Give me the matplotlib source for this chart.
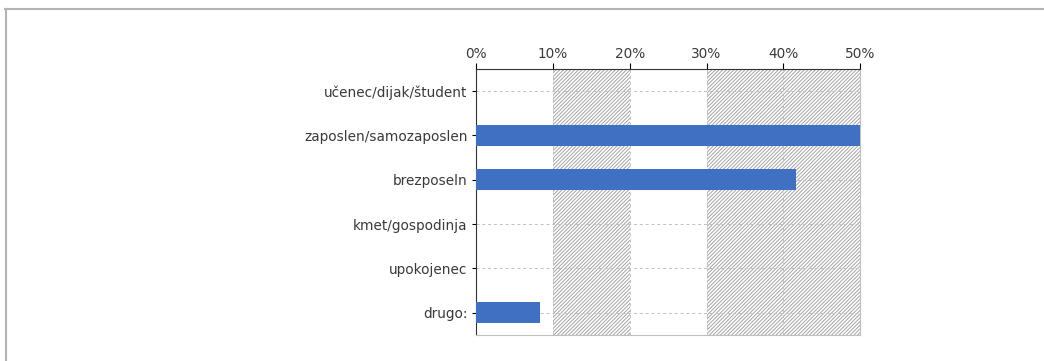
import matplotlib.pyplot as plt
from matplotlib.lines import Line2D

categories = ["učenec/dijak/študent", "zaposlen/samozaposlen", "brezposeln",
              "kmet/gospodinja", "upokojenec", "drugo:"]
values = [0.0, 50.0, 41.7, 0.0, 0.0, 8.3]
ticks = [0, 10, 20, 30, 40, 50]
tick_labels = ["0%", "10%", "20%", "30%", "40%", "50%"]
hatched_bands = [(10, 20), (30, 40), (40, 50)]

plt.rcParams['hatch.linewidth'] = 0.7
plt.rcParams['hatch.color'] = '#a4a4a4'

fig = plt.figure(figsize=(10.44, 3.61), dpi=100)
ax = fig.add_axes([0.456, 0.072, 0.368, 0.737])

# background bands
for lo, hi in hatched_bands:
    ax.axvspan(lo, hi, facecolor='white', hatch='/' * 9, edgecolor='#a4a4a4',
               linewidth=0, zorder=0)

y = list(range(len(categories)))
ax.barh(y, values, height=0.48, color='#3f70c2', zorder=3)

ax.set_xlim(0, 50)
ax.set_ylim(len(categories) - 0.5, -0.5)
ax.set_yticks(y)
ax.set_yticklabels(categories, fontsize=9.8, color='#3a3a3a')
ax.set_xticks(ticks)
ax.set_xticklabels(tick_labels, fontsize=9.8, color='#3a3a3a')
ax.xaxis.tick_top()
ax.tick_params(axis='x', length=4, width=0.8, pad=2)
ax.tick_params(axis='y', length=3, width=0.8, pad=3)

ax.grid(True, linestyle=(0, (3, 3)), color='#c0c0c0', linewidth=0.7, zorder=1)
ax.set_axisbelow(True)

ax.spines['left'].set_color('#333333')
ax.spines['top'].set_color('#333333')
ax.spines['right'].set_color('#c0c0c0')
ax.spines['bottom'].set_color('#c0c0c0')

# outer frame (top and left edges visible)
fig.add_artist(Line2D([0.005, 1.0], [0.975, 0.975], color='#b4b4b4', lw=1.5,
                      transform=fig.transFigure))
fig.add_artist(Line2D([0.006, 0.006], [0.0, 0.975], color='#b4b4b4', lw=1.5,
                      transform=fig.transFigure))

fig.savefig('out.png', dpi=100)
